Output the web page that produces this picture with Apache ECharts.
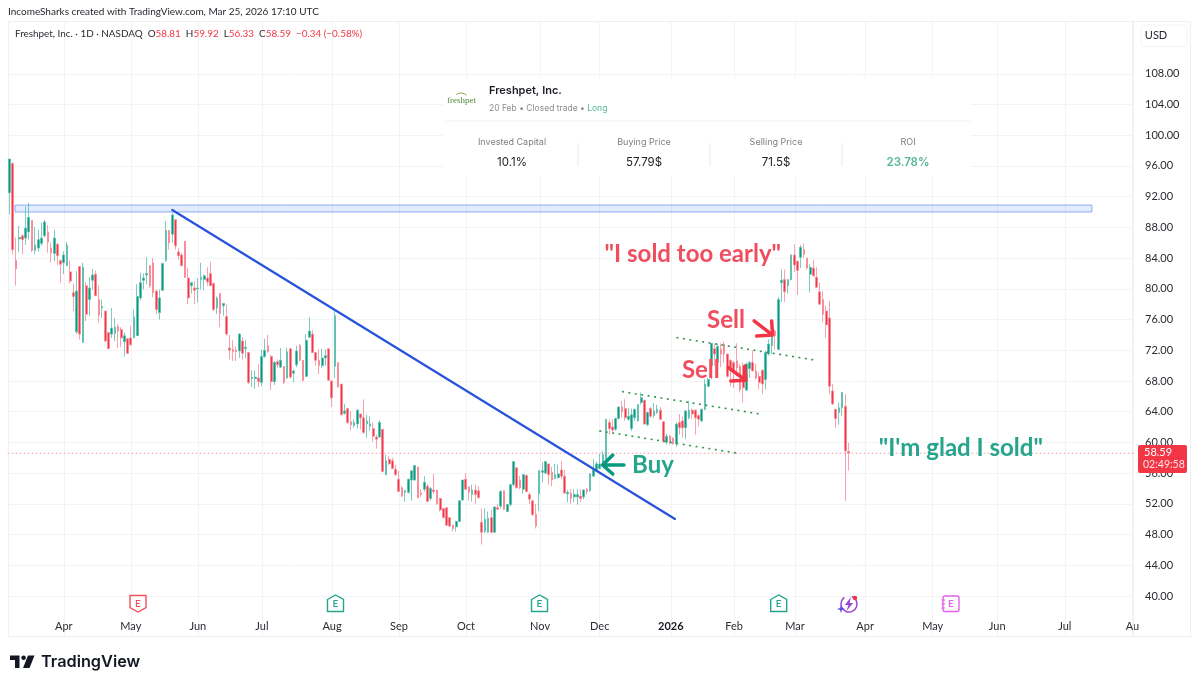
<!DOCTYPE html>
<html>
<head>
<meta charset="utf-8">
<title>Freshpet, Inc.</title>
<script src="https://cdn.jsdelivr.net/npm/echarts@6/dist/echarts.min.js"></script>
<style>
html,body{margin:0;padding:0;background:#fff;}
#main{width:1200px;height:687px;}
</style>
</head>
<body>
<div id="main"></div>
<script>
// daily bars, oldest first
var opens = [
92.5,96.3,83.7,86.5,86.9,86.6,87.4,88.9,85,85.3,
85.9,86.9,87.4,85.3,84.6,85.8,83.7,83.4,83,82.2,
79.5,74.4,82.9,73,80.4,78.6,81.1,81.9,78.6,77.5,
77.1,74.3,74.1,74.2,75.1,74.7,73.1,73.5,73.6,73.6,
73.9,78.8,81.1,81.8,83,83.4,79.7,76.9,79.8,83.7,
87.6,87.1,89,84.8,84.4,86.2,81.4,80.4,80.1,80,
81.2,81.2,81.4,82,80.7,77.5,79.4,77.8,76.4,72.3,
72.1,72,71.9,73.2,72.2,71.7,68.3,68.3,68.4,67.8,
71.2,72.6,71.2,67.9,70.5,69.8,69.9,68.4,72.2,69,
70.1,72.6,70.7,68.6,73.7,74.1,71.7,70.7,70,71,
72.2,68,69.9,70.4,67.6,63.8,64.4,62.7,62.2,62.4,
63.7,63.2,62.4,62.1,61.8,60.7,60.7,61.7,55.8,57.8,
57.6,56.5,55.2,54.1,53.5,53.5,55.1,55.1,56.8,53.4,
53.9,54.3,52.7,53.8,53.8,52.7,51.4,51.5,50.2,49.2,
49,49.7,52.5,55.2,54.2,53.2,53.8,53.7,49.6,48.4,
48.3,50.2,48.3,51.5,51.7,53.7,51,51.9,54.5,56.7,
55.1,53.9,55.7,53.2,52.4,50.6,53.3,56.1,56,57.2,
56.1,55.3,55.4,56.4,55.6,53.3,53.4,52.9,52.9,53,
52.9,53.9,53.7,55.6,56.4,56.6,56.9,57.1,62.6,62,
61.7,63.1,64.6,64.4,63,61.8,63.2,62.8,65.2,65.5,
62.3,64.4,63.5,63.9,64.2,62.7,60,60.8,60.5,59.8,
62.6,62.8,61.9,63.2,64.2,64.2,63.5,62.8,64.3,67.3,
70,72.2,70.4,72.1,72.8,71.5,70.7,70.4,70.6,69.9,
69.9,66.8,69.6,70.4,69.3,68.6,69.4,68.2,71.5,72.6,
74.5,72.1,80.8,81.2,80.4,81.2,84.4,83.6,84.1,85.1,
84,81.9,82.7,81.5,79.6,78.6,77.1,76.2,66.7,64.3,
63.9,64.5,64.7,58.81];
var closes = [
96.9,85.1,82.6,86.7,86.4,87.9,89.3,85,85.7,86.4,
86.6,88.7,86.1,84.7,86.6,84.3,83.2,84.4,85.7,81,
79,79.7,74.1,82.8,76.7,80.1,81.8,79.1,76.6,77.7,
73.2,72.2,74.9,75,74.5,73.6,73.9,71.6,72.7,76.3,
79,80.8,81.4,82,80.4,79.5,77.3,78.8,83.3,87.6,
86,89.6,85.6,84.3,83,81.5,78.8,80.8,79.8,80.1,
81.5,81.7,80.9,80.4,77.3,78.8,76.8,78.1,74.1,72,
71.8,71.8,74.1,71.6,72.4,67.8,68.5,68.5,67.9,71.2,
72,71.8,67.9,70.4,70.1,70.7,67.8,71.8,68.5,69.3,
71.9,70.7,68.1,73.3,74.5,71.7,70.7,70,71,71.3,
68.1,65.8,76.5,67.2,63.6,64.1,62.6,62.3,62.6,64.2,
63.2,61.3,62.8,62.4,60.8,60.4,62.6,56.2,57.6,57.2,
56.6,55.8,53.6,53,53.7,55.2,56.3,57,52.8,53.2,
54.8,52.3,54,53.6,52,51.2,50.2,49.2,49.1,48.8,
49.7,52.4,55.1,53.9,53.5,53.8,53.2,52.8,48.3,50,
50.1,48.3,51.6,51.3,53.6,51.3,51.9,54.5,57.5,54.1,
54.1,55.8,53.6,52.6,50.6,49.1,56.3,56.3,57.5,55.8,
55.1,55.8,55.9,55.6,53.4,53.5,52.7,53.2,53.2,52.7,
53.8,53.6,55.9,56.4,57.2,57.2,58.4,63,61.8,61.6,
63.1,64.6,64,63.2,63.4,63.6,64.3,64.9,65.8,62.4,
63.9,63.4,64.1,64.3,63,60.1,60.8,60,59.8,62.4,
61.9,61.9,64.1,64.2,63.7,63.2,63,64.3,67.6,68.2,
72.9,71.5,72.5,71.5,71.5,68.6,69.7,69.3,69.7,66.9,
67.1,70.2,70.4,69.3,68.4,67.8,67.6,71.7,72.8,74.5,
73.9,78.6,81.1,79.6,81.2,84.4,83.1,82.4,85.4,84.5,
82.7,82.8,81.7,80.2,78,76.7,75.3,67.3,65,63.1,
64.5,66.5,58.9,58.59];
var highs = [
96.9,96.5,86.7,88.2,87.1,90.7,91.2,88.9,88,87.7,
88.6,89,88.3,86,87.7,86,83.7,84.9,86.1,83.7,
80.7,82.3,82.9,83.4,80.9,81.5,82.6,82.4,80.4,78.6,
77.1,74.3,77.5,76.2,75.4,75,74.3,73.6,75.2,77.3,
80.6,82.1,82,84.1,83.1,84,79.9,79.9,83.3,88.8,
87.6,89.9,89,85.3,84.7,86.2,82.7,80.9,81,81.4,
83.4,81.9,82.8,83.5,80.8,79,79.4,78.1,78,74,
73.3,72.5,74.2,73.7,73.3,71.7,69.4,69.4,70.2,72.1,
73.5,74,71.4,70.6,70.8,72.3,69.9,72.3,72.2,69.5,
72.6,72.8,70.7,74.1,76.3,74.6,71.7,72.1,72.2,72.1,
72.2,68,77.1,70.4,67.6,65,64.4,64.1,63,64.3,
63.7,65.6,63.6,63.4,62.6,61,62.9,61.7,58.4,58.2,
58,57.1,56.3,54.3,53.8,55.3,56.3,57,56.8,53.9,
55.6,54.6,54.2,55.9,53.8,52.8,51.4,51.5,50.2,49.3,
49.8,52.5,55.1,56,54.3,54.5,54.5,54.3,51.4,51.4,
51,51.2,51.6,52,53.8,53.7,52,54.6,57.5,56.7,
55.6,55.9,55.8,53.5,52.4,52,56.4,57.4,57.5,57.2,
56.8,57.2,57.1,57.6,56.4,53.8,53.9,53.9,53.9,53.9,
53.9,54.1,56,57.8,57.5,58.5,58.9,63,63,63,
63.2,64.7,65.4,65.6,64.5,64.4,64.4,65,66.5,65.5,
64,64.6,65.1,64.9,64.6,62.7,61.1,61,60.7,62.6,
63.7,63.4,64.2,65.4,64.4,64.3,63.7,64.4,68.2,68.4,
72.9,72.8,72.9,72.9,73.1,71.5,70.8,70.6,72.9,70.2,
70.4,70.4,70.6,72,70.2,69.1,69.5,71.9,73.4,74.5,
74.7,78.9,82.5,82.5,81.2,84.5,85.8,83.6,85.7,85.9,
84,83.2,83.8,82.8,80.8,79.7,77.8,78.4,67.6,64.3,
65.2,66.5,66.3,59.92];
var lows = [
89.7,84.5,80.4,84.8,84.5,85.7,86.4,84.8,84.5,84.8,
85.6,86.7,84.7,83.4,83.6,83,80.8,81.9,83,80.7,
77.1,74.1,73.4,73,75.8,76.5,79.9,79.1,75.6,76.2,
73.1,72.2,73.6,73.2,72.3,72.4,71.2,71.5,72.6,73.6,
73.9,78.5,79.9,80.6,80.1,78.9,76.7,76,79.8,83.5,
85.1,86,85.1,83.8,83,81.4,78,79.4,78,78.2,
79.9,79.8,80.4,80.4,77.1,76.7,75,76.5,73.9,70.8,
70.6,70.6,71,70.8,71,67.6,67.2,67,67.2,67.3,
71,71.7,66.8,67.5,69.7,69.7,67.6,68.3,68.3,67.8,
69.8,70.6,67.9,68.5,73.6,71.7,70,68.9,69.7,70,
68,64.6,68.4,67.2,63.6,63.6,62.4,61.6,61.9,61.8,
61.7,61.1,60.6,61.5,60.1,59.2,60.6,56.1,55.7,57.1,
56.5,55.6,53.6,52.9,52.3,53.3,52.4,55,52.7,52.9,
53.6,52.2,52.4,53.3,51.9,51,50.2,49.1,49,48.4,
48.4,49.6,52.4,53.8,52.4,52.3,52,52.7,46.7,48.2,
48.2,48.1,48.2,51.2,51.4,51.2,50.9,51.7,54.3,54,
53.9,53.3,53.5,52,50.4,48.8,51.1,54.8,55.9,54.5,
54.3,55.2,55.3,55.2,53.3,52.2,52,52.2,51.9,52.2,
52.6,53.2,53.6,55.6,56.3,56.5,56.8,57,61,61.3,
61.5,63,63.2,62.8,62.8,61.5,62.8,62.7,64.9,62.3,
62.1,63.2,63.2,63.7,62.9,60,59.7,59.7,59.7,59.4,
61,60.6,60.4,63,63,61,62.1,62.6,64.2,67.2,
68.2,70,70,69.8,70.4,68.4,67.3,67.1,68.6,66.5,
65.2,66.8,68.4,69.3,68.2,66.9,66.3,66.9,71.3,71.5,
72.1,72.1,78.3,78.3,79.4,81.1,82.2,79.2,82.7,84,
82.5,79.5,81.5,80.1,77.9,75.7,73.6,66.3,64.9,61.9,
62.3,63.4,52.4,56.33];

// bar slots incl. the empty future on the right
var slotCount = 353;
var priceTicks = [40,44,48,52,56,60,64,68,72,76,80,84,88,92,96,100,104,108];
var monthSlots = [17,38,59,79.1,101.1,122.1,143.1,166.3,185,207.3,227.1,246.2,268.2,289.4,309.6,330.8,352];
var monthNames = ['Apr','May','Jun','Jul','Aug','Sep','Oct','Nov','Dec','2026','Feb','Mar','Apr','May','Jun','Jul','Au'];
var lastPrice = 58.59;

// drawings, [slot, price]
var trendLine = [[51,90.26],[208.6,50.03]];
var zoneBox = [[1.7,90.9],[339.3,90.0]];
var channelLow = [[185.1,61.48],[228.4,58.58]];
var channelHigh = [[192.2,66.6],[235.8,63.66]];
var channelTop = [[209.3,73.63],[252.8,70.69]];
var buyArrow = [[192.6,57.06],[185.9,57.06],[189.1,58.36],[185.9,57.06],[189.1,55.88]];
var sellArrow1 = [[233.4,75.81],[239.2,73.98],[234.2,73.85],[239.2,73.98],[238.9,75.81]];
var sellArrow2 = [[225.3,69.73],[230.8,68.09],[226.1,68],[230.8,68.09],[230.5,69.95]];

var upColor = '#089981';
var downColor = '#f23645';
var upWick = '#5cbfae';
var downWick = '#f68c97';
var axisFont = 'Lato';
var gridColor = '#f2f3f5';

var categories = [];
for (var i = 0; i < slotCount; i++) {
	categories.push(i);
}
var candles = [];
for (var i = 0; i < opens.length; i++) {
	candles.push([opens[i], closes[i], lows[i], highs[i]]);
}

function lineSeries(data, color, width, type) {
	return {
		type: 'line',
		xAxisIndex: 1,
		yAxisIndex: 0,
		data: data,
		symbol: 'none',
		silent: true,
		animation: false,
		z: 5,
		lineStyle: {color: color, width: width, type: type || 'solid', cap: 'round', join: 'round'}
	};
}

function noteSeries(slot, price, text, color, size) {
	return {
		type: 'scatter',
		xAxisIndex: 1,
		yAxisIndex: 0,
		data: [[slot, price]],
		symbolSize: 1,
		silent: true,
		animation: false,
		z: 6,
		// scatter defaults to 0.8 and the label would inherit it
		itemStyle: {color: 'rgba(0,0,0,0)', opacity: 1},
		label: {show: true, position: 'inside', formatter: text, color: color, fontSize: size, fontFamily: 'Lato', fontWeight: 'bold'}
	};
}

// earnings badge, flag points down for a miss and up for a beat
function earningsBadge(x, color, down) {
	var pts = down
		? [[x-8,595.5],[x+8,595.5],[x+8,607.5],[x,612],[x-8,607.5]]
		: [[x-8,599.5],[x,595],[x+8,599.5],[x+8,611.5],[x-8,611.5]];
	return [
		{type: 'polygon', z: 60, shape: {points: pts}, style: {fill: '#fff', stroke: color, lineWidth: 1.4}},
		{type: 'text', z: 61, x: x, y: 604, style: {text: 'E', fill: color, font: '600 10px ' + axisFont, textAlign: 'center', textVerticalAlign: 'middle'}}
	];
}

function cardColumn(x, label, value, color, weight) {
	return [
		{type: 'text', z: 61, x: x, y: 142, style: {text: label, fill: '#7d7f85', font: '9px Inter', textAlign: 'center', textVerticalAlign: 'middle'}},
		{type: 'text', z: 61, x: x, y: 163, style: {text: value, fill: color, font: (weight || 400) + ' 11.5px Inter', textAlign: 'center', textVerticalAlign: 'middle'}}
	];
}

var chrome = [
	{type: 'rect', z: 1, shape: {x: 8.5, y: 21.5, width: 1182, height: 615}, style: {fill: 'none', stroke: '#eef0f3', lineWidth: 1}},
	{type: 'line', z: 1, shape: {x1: 1133.5, y1: 22, x2: 1133.5, y2: 637}, style: {stroke: '#eef0f3', lineWidth: 1}},
	{type: 'text', z: 61, x: 8, y: 12, style: {text: 'IncomeSharks created with TradingView.com, Mar 25, 2026 17:10 UTC', fill: '#26282e', font: '10px ' + axisFont, textVerticalAlign: 'middle'}},
	{type: 'text', z: 61, x: 15, y: 34, style: {
		text: 'Freshpet, Inc. · 1D · NASDAQ  {k|O}{v|58.81}  {k|H}{v|59.92}  {k|L}{v|56.33}  {k|C}{v|58.59}  {v|−0.34 (−0.58%)}',
		fill: '#2a2c32', font: '9.9px ' + axisFont, textVerticalAlign: 'middle',
		rich: {k: {fill: '#2a2c32', font: '9.9px ' + axisFont}, v: {fill: '#f23645', font: '9.9px ' + axisFont}}
	}},
	{type: 'rect', z: 60, shape: {x: 1141, y: 25, width: 46, height: 21.5, r: 4}, style: {fill: '#fff', stroke: '#f2f3f5', lineWidth: 1}},
	{type: 'text', z: 61, x: 1156, y: 35.5, style: {text: 'USD', fill: '#26282e', font: '11px ' + axisFont, textAlign: 'center', textVerticalAlign: 'middle'}},

	// trade card
	{type: 'rect', z: 50, shape: {x: 443, y: 78, width: 528, height: 98}, style: {fill: '#fff'}},
	{type: 'text', z: 61, x: 461.5, y: 100.5, style: {text: 'freshpet', fill: '#4f8a3a', font: '9px "Liberation Serif"', textAlign: 'center', textVerticalAlign: 'middle'}},
	{type: 'arc', z: 61, shape: {cx: 461, cy: 101, r: 8, startAngle: -2.2, endAngle: -0.8}, style: {fill: 'none', stroke: '#8aa64a', lineWidth: 1}},
	{type: 'text', z: 61, x: 489, y: 91, style: {text: 'Freshpet, Inc.', fill: '#1c1e24', font: '600 11px Inter', textVerticalAlign: 'middle'}},
	{type: 'text', z: 61, x: 489, y: 108, style: {
		text: '20 Feb • Closed trade • {g|Long}', fill: '#8b8d92', font: '8.5px Inter', textVerticalAlign: 'middle',
		rich: {g: {fill: '#55b594', font: '8.5px Inter'}}
	}},
	{type: 'line', z: 61, shape: {x1: 446, y1: 121, x2: 970, y2: 121}, style: {stroke: '#eeeff1', lineWidth: 1}},
	{type: 'line', z: 61, shape: {x1: 578, y1: 143, x2: 578, y2: 166}, style: {stroke: '#e8e9eb', lineWidth: 1}},
	{type: 'line', z: 61, shape: {x1: 710, y1: 143, x2: 710, y2: 166}, style: {stroke: '#e8e9eb', lineWidth: 1}},
	{type: 'line', z: 61, shape: {x1: 842, y1: 143, x2: 842, y2: 166}, style: {stroke: '#e8e9eb', lineWidth: 1}},

	// last price tag over the axis labels
	{type: 'rect', z: 70, shape: {x: 1138, y: 445, width: 49, height: 28, r: 2}, style: {fill: '#f23645'}},
	{type: 'text', z: 71, x: 1144, y: 452, style: {text: '58.59', fill: '#fff', font: '11px ' + axisFont, textVerticalAlign: 'middle'}},
	{type: 'text', z: 71, x: 1143, y: 465, style: {text: '02:49:58', fill: '#fde3e6', font: '10.5px ' + axisFont, textVerticalAlign: 'middle'}},

	// dividends style badge
	{type: 'arc', z: 60, shape: {cx: 849, cy: 604, r: 8, startAngle: -1.2, endAngle: 4.1}, style: {fill: 'none', stroke: '#a23fcb', lineWidth: 1.5}},
	{type: 'polygon', z: 61, shape: {points: [[851,597],[845,605],[848.5,605],[846.5,611],[853,603],[849.5,603]]}, style: {fill: '#8f44d6'}},
	{type: 'circle', z: 62, shape: {cx: 855, cy: 598, r: 2.2}, style: {fill: '#f23645'}},
	{type: 'polygon', z: 62, shape: {points: [[841,605],[842,608],[845,609],[842,610],[841,613],[840,610],[837,609],[840,608]]}, style: {fill: '#5b4ee0'}},

	// next earnings
	{type: 'rect', z: 60, shape: {x: 943, y: 596, width: 16, height: 15.5, r: 2}, style: {fill: '#fff', stroke: '#e262e6', lineWidth: 1.4}},
	{type: 'line', z: 61, shape: {x1: 941.5, y1: 600, x2: 945, y2: 600}, style: {stroke: '#e262e6', lineWidth: 1.2}},
	{type: 'line', z: 61, shape: {x1: 941.5, y1: 604, x2: 945, y2: 604}, style: {stroke: '#e262e6', lineWidth: 1.2}},
	{type: 'line', z: 61, shape: {x1: 941.5, y1: 608, x2: 945, y2: 608}, style: {stroke: '#e262e6', lineWidth: 1.2}},
	{type: 'text', z: 61, x: 951, y: 604, style: {text: 'E', fill: '#e262e6', font: '600 10px ' + axisFont, textAlign: 'center', textVerticalAlign: 'middle'}},

	// TradingView logo
	{type: 'polygon', z: 60, shape: {points: [[10,655.5],[19.5,655.5],[19.5,668],[15,668],[15,660],[10,660]]}, style: {fill: '#131722'}},
	{type: 'circle', z: 60, shape: {cx: 23.6, cy: 657.8, r: 2.3}, style: {fill: '#131722'}},
	{type: 'polygon', z: 60, shape: {points: [[28,655.5],[34.5,655.5],[29.5,668],[23,668]]}, style: {fill: '#131722'}},
	{type: 'text', z: 60, x: 41, y: 662, style: {text: 'TradingView', fill: '#131722', font: '600 16.3px Inter', textVerticalAlign: 'middle'}}
];
chrome = chrome
	.concat(cardColumn(512, 'Invested Capital', '10.1%', '#1c1e24'))
	.concat(cardColumn(644, 'Buying Price', '57.79$', '#1c1e24'))
	.concat(cardColumn(776, 'Selling Price', '71.5$', '#1c1e24'))
	.concat(cardColumn(908, 'ROI', '23.78%', '#55b594', 600))
	.concat(earningsBadge(138, '#f2505f', true))
	.concat(earningsBadge(335.5, '#26a58d', false))
	.concat(earningsBadge(539.5, '#26a58d', false))
	.concat(earningsBadge(778.7, '#26a58d', false));

var myChart = echarts.init(document.getElementById('main'), null, {renderer: 'canvas'});

var zoneSeries = lineSeries([], '#000', 1);
zoneSeries.markArea = {
	silent: true,
	itemStyle: {color: 'rgba(41,98,255,0.13)', borderColor: '#8fabf5', borderWidth: 1},
	data: [[{coord: zoneBox[0]}, {coord: zoneBox[1]}]]
};

var option = {
	animation: false,
	backgroundColor: '#fff',
	grid: {left: 8, right: 66, top: 22, bottom: 50},
	xAxis: [
		{type: 'category', data: categories, show: false},
		{
			type: 'value',
			min: -0.5,
			max: slotCount - 0.5,
			position: 'bottom',
			axisLine: {show: false},
			axisTick: {show: false, customValues: monthSlots},
			splitLine: {show: true, lineStyle: {color: gridColor, width: 1}},
			axisLabel: {
				show: true,
				inside: true,
				margin: 5,
				customValues: monthSlots,
				hideOverlap: false,
				showMinLabel: true,
				showMaxLabel: true,
				color: '#2a2c32',
				fontSize: 11,
				fontFamily: axisFont,
				formatter: function (value) {
					var name = monthNames[monthSlots.indexOf(value)];
					return name == '2026' ? '{y|2026}' : name;
				},
				rich: {y: {fontWeight: 'bold', fontSize: 11, fontFamily: axisFont, color: '#1a1c22'}}
			}
		}
	],
	yAxis: {
		type: 'value',
		position: 'right',
		min: 34.66,
		max: 114.74,
		axisLine: {show: false},
		axisTick: {show: false, customValues: priceTicks},
		splitLine: {show: true, lineStyle: {color: gridColor, width: 1}},
		axisLabel: {
			show: true,
			customValues: priceTicks,
			margin: 11,
			color: '#2a2c32',
			fontSize: 11,
			fontFamily: axisFont,
			formatter: function (value) {
				return value.toFixed(2);
			}
		}
	},
	series: [
		{
			type: 'candlestick',
			xAxisIndex: 0,
			yAxisIndex: 0,
			data: candles,
			barWidth: 2.2,
			z: 3,
			itemStyle: {
				color: upColor,
				color0: downColor,
				borderColor: upWick,
				borderColor0: downWick,
				borderWidth: 0.8
			}
		},
		zoneSeries,
		lineSeries([[-0.5, lastPrice], [slotCount - 0.5, lastPrice]], '#f5a3ab', 1, [1, 3]),
		lineSeries(trendLine, '#2753dc', 2.2),
		lineSeries(channelLow, '#3a9a5a', 1.8, [0.5, 6]),
		lineSeries(channelHigh, '#3a9a5a', 1.8, [0.5, 6]),
		lineSeries(channelTop, '#3a9a5a', 1.8, [0.5, 6]),
		lineSeries(buyArrow, upColor, 3.5),
		lineSeries(sellArrow1, downColor, 3.5),
		lineSeries(sellArrow2, downColor, 3.5),
		noteSeries(201.7, 57.06, 'Buy', '#26a58d', 24),
		noteSeries(224.6, 75.94, 'Sell', '#f04e5e', 24),
		noteSeries(216.7, 69.43, 'Sell', '#f04e5e', 24),
		noteSeries(214.2, 84.53, '"I sold too early"', '#f04e5e', 24),
		noteSeries(298.2, 59.27, '"I\'m glad I sold"', '#26a58d', 24)
	],
	graphic: {elements: chrome}
};

myChart.setOption(option);
</script>
</body>
</html>
